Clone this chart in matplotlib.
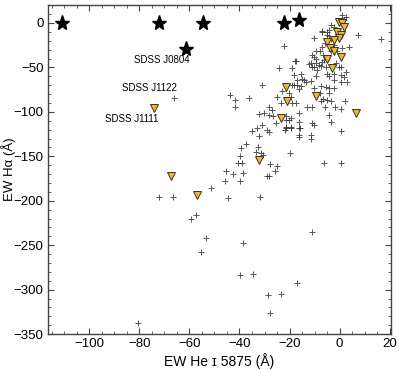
import numpy as np
import matplotlib
matplotlib.use('Agg')
import matplotlib.pyplot as plt
from matplotlib.ticker import MultipleLocator

plt.rcParams['font.family'] = ['Liberation Sans', 'DejaVu Sans']

# EW He I 5875 vs EW H-alpha
plus_x = [-80.5, -72, -66.7, -66, -44.7, -31.9, -57.3, -59.5, -11, -53.2, -38.7, -55.3, -39.7, -34.5,
          -17, -28.8, -23.3, -27.9, -51.5,
          -45.3, -42.4, -38.5, -45.6, -39.6, -40.4, -39, -39.9, -39.3, -37.3, -32.7, -33.5, -31.6,
          -30.7, -27.9, -29.2, -28.3, -24.9, -26, -19.9, -6.3, 0.4,
          -43.6, -41.6, -41.6, -36.3, -31.2, -24.3, -19.2, -17.9, -22.9, -24.9, -23.6, -20.3, -19,
          -17, -17, -17.6, -28.3, -26.9, -30.3, -32.3, -28.3, -26.5, -31.2, -33.2, -34.9, -32.3,
          -29.2, -28.3, -25.6, -21.6, -20.3, -19.6, -21.6, -16.3, -16.3, -16.3,
          -17.6, -12.3, -10.9, -9.6, -7.6, -5.6, -8.9, 0.4, -15.6, -9.6, -2.3, 0.4, 1.7, 0.4, 3,
          -14.3, -11.6, -18.3, -15.6, -16.3, -10.3, -7.6, -5.6, -4.3, -2.3, -7.9, -4.3, -6.5, -5,
          -3.6, -7.6, -2, -12.9, -10.9, -5.9, 0.4, 2, -16.3, -4.3, -10.9, -10.3, -3.6, -15.9,
          -19.6, -21.6, -19.6, -21.6, 0.4, -11.6, -11.6, -16.3, -22, -19.6, -18.9,
          1, 2.4, 1.7, 7.3, 3.7, -10.3, -6.9, -4.3, -5, -3.6, -2.3, -6.9, -7.9, -9.6, -10.9,
          -10.3, -9.6, -11.6, -10.3, -8.3, -6.9, -6.3, -1.6, -0.3, 2.4, -5, -4.3, -2.3, -18.3,
          -14.9, -13.6, -22.3, -3.6, -2.3, -3.6, -0.9, -6, -6.5, 1, 16.4, -5, -7, -4.4]
plus_y = [-338, -196, -196, -84, -197, -196, -216, -221, -235, -242, -248, -258, -283, -282,
          -292, -306, -305, -326, -186,
          -167, -170, -169, -178, -178, -157, -157, -150, -141, -136, -140, -145, -146,
          -148, -159, -172, -172, -161, -167, -146, -158, -158,
          -81, -87, -94, -84, -70, -51, -51, -43, -76, -83, -90, -79, -70,
          -70, -64, -90, -94, -98, -101, -102, -103, -105, -115, -118, -121, -127,
          -120, -123, -113, -109, -109, -117, -117, -111, -118, -126,
          -43, -46, -49, -45, -48, -50, -53, -50, -57, -60, -57, -58, -61, -66, -66,
          -64, -65, -70, -71, -74, -73, -71, -72, -73, -73, -79, -79, -85, -87,
          -88, -88, -94, -95, -95, -95, -97, -88, -101, -103, -112, -115, -111, -118,
          -107, -105, -118, -118, -121, -126, -130, -128, -120, -83, -90,
          9, 7, 3.4, -13, -27, -16.5, -9, -8, -13, -18, -25, -27, -32, -31, -36,
          -38, -40, -45, -49, -47, -44, -42, -45, -49, -55, -57, -60, -64, -59,
          -63, -66, -25.5, -2, -4, -32, -32, -23, -36, -28, -18, -10, -10, -15]

tri_x = [-0.3, 1, 1.7, -0.9, 0.4, -0.3, -2.3, -5, -3.9, -2.3, 0.4, -5, -2.9,
         -21.6, -21, -23.6, -9.6, 6.6, -32.4, -67.5, -57, -74]
tri_y = [1.5, -0.4, -5, -10, -13.5, -17, -19, -21, -28, -32, -38, -40, -51,
         -72, -88, -107, -82, -101, -154, -172, -193, -96]

star_x = [-111, -72.3, -54.4, -22.4, -16.4, -61.3]
star_y = [0, 0, 0, 0, 3.4, -29]

labels = ['SDSS J0804', 'SDSS J1122', 'SDSS J1111']
label_x = [-71, -76, -83]
label_y = [-42, -73, -108]

fig = plt.figure(figsize=(3.99, 3.70), dpi=100)
ax = fig.add_axes([0.120, 0.097, 0.860, 0.889])

ax.plot(plus_x, plus_y, '+', color='#2a2a2a', ms=4.5, mew=0.7, alpha=0.8, zorder=2)
ax.plot(tri_x, tri_y, 'v', mfc='#f5b81c', mec='#333333', mew=0.7, ms=6, zorder=3)
ax.plot(star_x, star_y, '*', color='black', ms=11, zorder=4)

for t, lx, ly in zip(labels, label_x, label_y):
    ax.text(lx, ly, t, fontsize=7, ha='center', va='center')

ax.set_xlim(-116.5, 20.5)
ax.set_ylim(-350, 20)
ax.xaxis.set_major_locator(MultipleLocator(20))
ax.xaxis.set_minor_locator(MultipleLocator(5))
ax.yaxis.set_major_locator(MultipleLocator(50))
ax.yaxis.set_minor_locator(MultipleLocator(10))
ax.tick_params(which='both', direction='in', top=True, right=True, labelsize=9.5, color='#444444')
ax.tick_params(which='major', length=4, pad=3)
ax.tick_params(which='minor', length=2)
for s in ax.spines.values():
    s.set_color('#444444')
    s.set_linewidth(1.0)

ax.set_xlabel('EW He \u026a 5875 (Å)', fontsize=10, labelpad=2)
ax.set_ylabel('EW H\u03b1 (Å)', fontsize=9.5)
ax.yaxis.set_label_coords(-0.094, 0.5)

fig.savefig('out.png', dpi=100)
